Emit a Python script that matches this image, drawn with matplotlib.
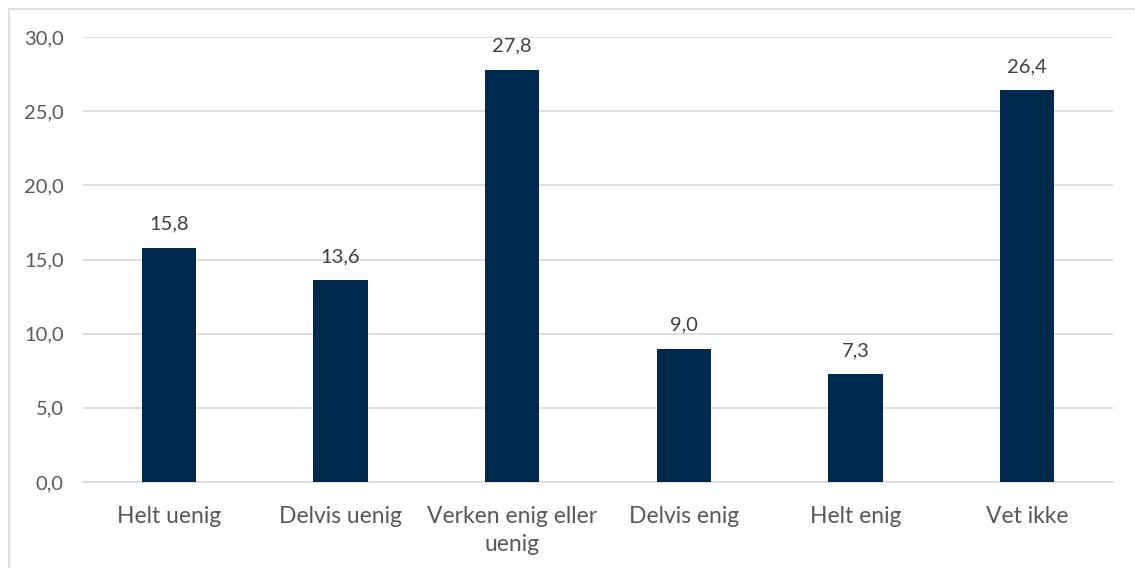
import matplotlib.pyplot as plt
from matplotlib.patches import Rectangle

kategorier = ['Helt uenig', 'Delvis uenig', 'Verken enig eller\nuenig', 'Delvis enig', 'Helt enig', 'Vet ikke']
verdier = [15.8, 13.6, 27.8, 9.0, 7.3, 26.4]
y_ticks = [0, 5, 10, 15, 20, 25, 30]

plt.rcParams['font.family'] = ['Lato', 'DejaVu Sans']
tekst = '#595959'

fig = plt.figure(figsize=(11.35, 5.68), dpi=100)
ax = fig.add_axes([83 / 1135, 1 - 482 / 568, 1030 / 1135, 445 / 568])

x = range(len(kategorier))
bars = ax.bar(x, verdier, width=0.315, color='#002A4D', zorder=3)

for b, v in zip(bars, verdier):
    ax.text(b.get_x() + b.get_width() / 2, v + 1.0, f'{v:.1f}'.replace('.', ','),
            ha='center', va='bottom', fontsize=14.5, color='#404040')

ax.set_xlim(-0.5, len(kategorier) - 0.5)
ax.set_ylim(0, 30)
ax.set_yticks(y_ticks)
ax.set_yticklabels([f'{t:.1f}'.replace('.', ',') for t in y_ticks], fontsize=14.5, color=tekst)
ax.set_xticks(list(x))
ax.set_xticklabels(kategorier, fontsize=16.5, color=tekst, linespacing=1.45)
ax.tick_params(axis='both', length=0)
ax.tick_params(axis='y', pad=14)
ax.tick_params(axis='x', pad=17)
ax.yaxis.grid(True, color='#D9D9D9', linewidth=1.2, zorder=0)
for s in ['top', 'right', 'left']:
    ax.spines[s].set_visible(False)
ax.spines['bottom'].set_color('#D9D9D9')
ax.spines['bottom'].set_linewidth(1.2)

# ramme rundt diagrammet
fig.patches.append(Rectangle((9 / 1135, -0.1), 1.2, 1 - 9 / 568 + 0.1, transform=fig.transFigure,
                             fill=False, edgecolor='#D9D9D9', linewidth=1.2))

fig.savefig('out.png', dpi=100)
